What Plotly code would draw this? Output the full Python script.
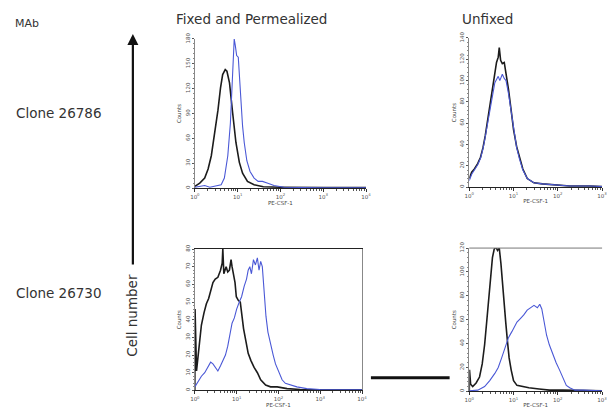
import plotly.graph_objects as go

W, H = 612, 408

# ---- histogram data: log10(PE-CSF-1 intensity) and event counts ----
# Clone 26786, fixed and permeabilized
tl_black_log = [0, 0.05, 0.115, 0.23, 0.31, 0.385, 0.46, 0.54, 0.6, 0.65, 0.71, 0.75, 0.81, 0.85,
                0.885, 0.96, 1.04, 1.115, 1.23, 1.385, 1.6, 2.0, 2.5, 3.0, 4.0]
tl_black_cnt = [2, 4, 6, 12, 23, 39, 63, 94, 121, 137, 143, 141, 127, 110,
                90, 55, 31, 18, 8, 4, 1.5, 1, 0.5, 0.5, 0.5]
tl_blue_log = [0, 0.1, 0.23, 0.35, 0.46, 0.55, 0.615, 0.69, 0.77, 0.83, 0.87, 0.9, 0.92, 0.946,
               0.977, 1.015, 1.046, 1.077, 1.115, 1.154, 1.215, 1.29, 1.385, 1.48, 1.58, 1.69,
               1.85, 2.08, 2.5, 3.0, 4.0]
tl_blue_cnt = [1, 2, 3, 1, 2, 3, 4, 12, 39, 78, 117, 156, 180, 172,
               160, 158, 130, 105, 75, 55, 33, 20, 12, 8, 8, 6,
               3, 1, 0.5, 0.3, 0.3]

# Clone 26786, unfixed
tr_black_log = [0, 0.054, 0.115, 0.19, 0.254, 0.31, 0.36, 0.42, 0.485, 0.54, 0.577, 0.615, 0.654,
                0.677, 0.708, 0.746, 0.79, 0.83, 0.885, 0.946, 1.0, 1.07, 1.13, 1.21, 1.31, 1.46,
                1.65, 1.96, 2.27, 2.73, 3.0]
tr_black_cnt = [8, 14, 17, 22, 28, 37, 48, 64, 79, 96, 105, 117, 122,
                131, 119, 116, 117, 108, 92, 72, 54, 38, 28, 17, 8, 4,
                3, 2, 1, 1, 0.5]
tr_blue_log = [0, 0.054, 0.115, 0.19, 0.254, 0.31, 0.36, 0.42, 0.485, 0.54, 0.577, 0.615, 0.654,
               0.69, 0.72, 0.746, 0.79, 0.83, 0.885, 0.946, 1.0, 1.07, 1.13, 1.21, 1.31, 1.46,
               1.65, 1.96, 2.27, 2.73, 3.0]
tr_blue_cnt = [6, 12, 16, 21, 27, 36, 47, 62, 77, 92, 98, 101, 104,
               100, 103, 106, 102, 100, 88, 70, 53, 37, 27, 16, 8, 4,
               3, 2, 1, 1, 0.5]

# Clone 26730, fixed and permeabilized
bl_black_log = [0, 0.005, 0.04, 0.079, 0.118, 0.157, 0.22, 0.276, 0.33, 0.378, 0.433, 0.488, 0.551,
                0.614, 0.654, 0.669, 0.693, 0.748, 0.787, 0.827, 0.866, 0.89, 0.929, 0.961, 0.992,
                1.039, 1.087, 1.118, 1.165, 1.22, 1.276, 1.339, 1.417, 1.496, 1.575, 1.693, 1.811,
                1.969, 2.205, 2.52, 4.0]
bl_black_cnt = [0, 46, 11, 19, 28, 37, 44, 49, 52, 56, 61, 63, 64,
                68, 72, 80, 66, 70, 67, 68, 74, 70, 64, 61, 53,
                51, 50, 44, 35, 28, 21, 17, 13, 10, 6, 3, 2,
                2, 1, 0.5, 0.3]
bl_blue_log = [0, 0.079, 0.157, 0.236, 0.315, 0.378, 0.433, 0.488, 0.551, 0.614, 0.669, 0.732,
               0.787, 0.843, 0.89, 0.945, 1.0, 1.063, 1.118, 1.181, 1.236, 1.276, 1.315, 1.354,
               1.402, 1.449, 1.496, 1.535, 1.575, 1.614, 1.654, 1.701, 1.748, 1.811, 1.874, 1.929,
               2.008, 2.087, 2.165, 2.283, 2.441, 2.677, 2.992, 4.0]
bl_blue_cnt = [2, 5, 8, 10, 13, 16, 15, 13, 11, 14, 17, 20,
               25, 31, 38, 41, 46, 50, 53, 59, 63, 68, 70, 66,
               74, 71, 75, 68, 73, 70, 55, 42, 33, 26, 20, 15,
               10, 6, 4, 3, 2, 1, 0.5, 0.3]

# Clone 26730, unfixed
br_black_log = [0, 0.005, 0.03, 0.077, 0.154, 0.231, 0.292, 0.346, 0.4, 0.446, 0.485, 0.523, 0.562,
                0.6, 0.638, 0.677, 0.715, 0.746, 0.785, 0.823, 0.862, 0.9, 0.946, 1.0, 1.077,
                1.192, 1.346, 1.577, 1.808, 2.115, 2.5, 3.0]
br_black_cnt = [0, 18, 6, 4, 7, 12, 23, 39, 61, 83, 99, 112, 119,
                121, 118, 120, 107, 91, 75, 58, 42, 28, 18, 9, 5,
                4, 3, 2, 1, 1, 1, 0.5]
br_blue_log = [0, 0.192, 0.346, 0.462, 0.577, 0.654, 0.731, 0.808, 0.885, 0.962, 1.023, 1.077,
               1.154, 1.231, 1.308, 1.385, 1.462, 1.538, 1.592, 1.638, 1.692, 1.746, 1.808, 1.885,
               1.962, 2.038, 2.115, 2.192, 2.269, 2.385, 2.577, 3.0]
br_blue_cnt = [0.5, 1, 4, 9, 15, 20, 28, 37, 45, 50, 54, 58,
               61, 64, 68, 70, 72, 70, 73, 69, 58, 47, 39, 31,
               24, 18, 11, 5, 3, 1, 1, 0.5]

# panel layout in pixels: (left, right, top, bottom), y max, y step, decades, frame
panels = [
    dict(px=(193, 367, 33, 187), ymax=180, dy=30, dec=4, box=False,
         black=(tl_black_log, tl_black_cnt), blue=(tl_blue_log, tl_blue_cnt)),
    dict(px=(472, 607, 32, 186), ymax=140, dy=20, dec=3, box=False,
         black=(tr_black_log, tr_black_cnt), blue=(tr_blue_log, tr_blue_cnt)),
    dict(px=(193, 363, 250, 396), ymax=80, dy=10, dec=4, box=True,
         black=(bl_black_log, bl_black_cnt), blue=(bl_blue_log, bl_blue_cnt)),
    dict(px=(472, 607, 249, 397), ymax=120, dy=20, dec=3, box="top",
         black=(br_black_log, br_black_cnt), blue=(br_blue_log, br_blue_cnt)),
]

fig = go.Figure()
layout = {}
tick_font = dict(family="DejaVu Sans", size=5.5, color="#555")

for i, p in enumerate(panels, start=1):
    xa = "x" if i == 1 else f"x{i}"
    ya = "y" if i == 1 else f"y{i}"
    for (lg, ct), col, wd in ((p["black"], "#1c1c1c", 1.6), (p["blue"], "#4a58d6", 1.1)):
        fig.add_trace(go.Scatter(
            x=[10 ** v for v in lg], y=ct, mode="lines",
            line=dict(color=col, width=wd), xaxis=xa, yaxis=ya,
            showlegend=False, hoverinfo="skip"))
    l, r, t, b = p["px"]
    decs = list(range(p["dec"] + 1))
    minor_vals = [m * 10 ** d for d in range(p["dec"]) for m in range(2, 10)]
    layout["xaxis" if i == 1 else f"xaxis{i}"] = dict(
        domain=[l / W, r / W], anchor=ya, type="log", range=[0, p["dec"]],
        tickmode="array", tickvals=[10 ** d for d in decs],
        ticktext=[f"10<sup>{d}</sup>" for d in decs],
        ticks="outside", ticklen=3, tickcolor="#333", tickfont=tick_font,
        minor=dict(tickmode="array", tickvals=minor_vals, ticks="outside",
                   ticklen=1.5, tickcolor="#555"),
        showline=True, linecolor="#222", linewidth=1.2, showgrid=False, zeroline=False,
        mirror=(p["box"] is True),
        title=dict(text="PE-CSF-1", font=dict(family="DejaVu Sans", size=5.5, color="#444"),
                   standoff=1),
    )
    layout["yaxis" if i == 1 else f"yaxis{i}"] = dict(
        domain=[1 - b / H, 1 - t / H], anchor=xa, range=[0, p["ymax"]],
        tickmode="linear", tick0=0, dtick=p["dy"], tickangle=-90,
        ticks="outside", ticklen=2, tickcolor="#555", tickfont=tick_font,
        minor=dict(dtick=p["dy"] / 5, ticks="outside", ticklen=1.2, tickcolor="#888"),
        showline=True, linecolor="#888", linewidth=1, showgrid=False, zeroline=False,
        mirror=(p["box"] is True),
        title=dict(text="Counts", font=dict(family="DejaVu Sans", size=5.5, color="#444"),
                   standoff=2),
    )

shapes = []
# top frame edge of the lower-right panel
l, r, t, b = panels[3]["px"]
shapes.append(dict(type="line", xref="paper", yref="paper",
                   x0=l / W, x1=r / W, y0=1 - t / H, y1=1 - t / H,
                   line=dict(color="#777", width=1)))
# scale bar between the lower panels
shapes.append(dict(type="line", xref="paper", yref="paper",
                   x0=372 / W, x1=452 / W, y0=1 - 383 / H, y1=1 - 383 / H,
                   line=dict(color="#111", width=3)))

label_font = dict(family="DejaVu Sans", size=13.5, color="#333")
annotations = [
    dict(text="MAb", x=8 / W, y=1 - 17 / H, xanchor="left", yanchor="middle",
         font=dict(family="DejaVu Sans", size=11, color="#333")),
    dict(text="Clone 26786", x=9 / W, y=1 - 110 / H, xanchor="left", yanchor="middle",
         font=label_font),
    dict(text="Clone 26730", x=9 / W, y=1 - 295 / H, xanchor="left", yanchor="middle",
         font=label_font),
    dict(text="Fixed and Permealized", x=172 / W, y=1 - 12 / H, xanchor="left",
         yanchor="middle", font=label_font),
    dict(text="Unfixed", x=463 / W, y=1 - 12 / H, xanchor="left", yanchor="middle",
         font=label_font),
    dict(text="Cell number", x=129 / W, y=1 - 318 / H, textangle=-90, xanchor="center",
         yanchor="middle", font=label_font),
    # vertical arrow for cell number
    dict(text="", x=130 / W, y=1 - 28 / H, ax=0, ay=232, showarrow=True,
         arrowhead=2, arrowsize=1, arrowwidth=2.2, arrowcolor="#111", standoff=0),
]
for a in annotations:
    a.setdefault("showarrow", False)
    a["xref"] = "paper"
    a["yref"] = "paper"

fig.update_layout(
    width=W, height=H, margin=dict(l=0, r=0, t=0, b=0),
    paper_bgcolor="white", plot_bgcolor="white",
    shapes=shapes, annotations=annotations, **layout,
)

fig.write_html("out.html")
